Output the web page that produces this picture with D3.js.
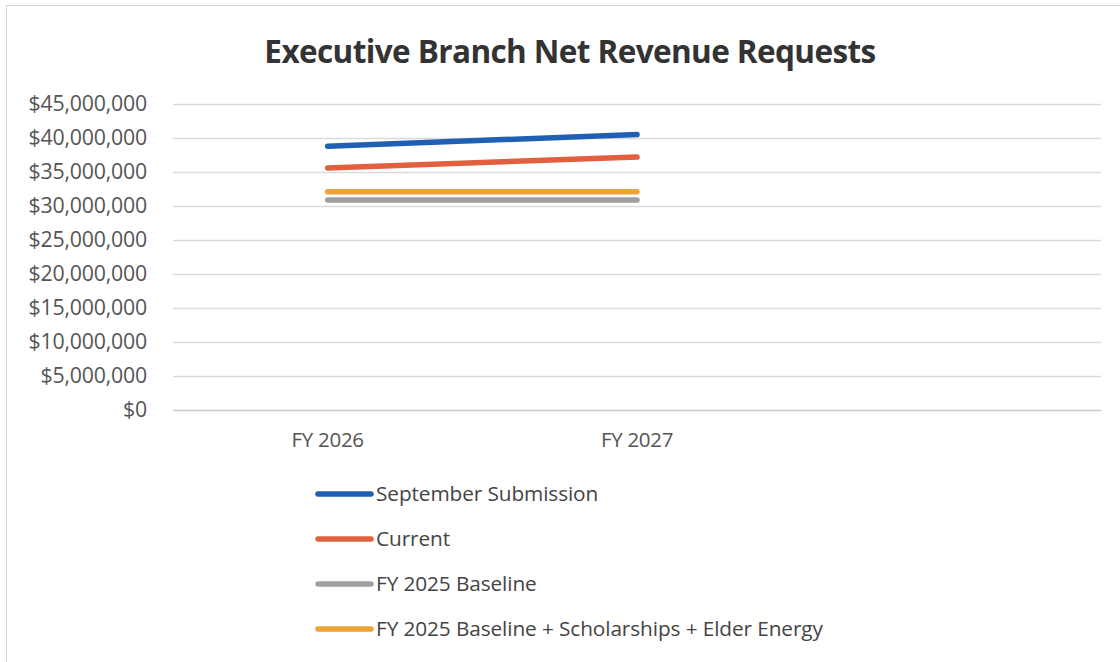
<!DOCTYPE html>
<html>
<head>
<meta charset="utf-8">
<script src="https://cdn.jsdelivr.net/npm/d3@7"></script>
<style>
  body { margin: 0; background: #fff; }
  svg { display: block; font-family: "Open Sans", Lato, sans-serif; }
</style>
</head>
<body>
<svg id="chart"></svg>
<script>
const categories = ["FY 2026", "FY 2027", ""];
const seriesNames = [
    "September Submission",
    "Current",
    "FY 2025 Baseline",
    "FY 2025 Baseline + Scholarships + Elder Energy"
];
const septemberSubmission = [38800000, 40500000];
const current = [35600000, 37200000];
const baseline = [30900000, 30900000];
const baselinePlus = [32100000, 32100000];
const yTicks = [0, 5e6, 10e6, 15e6, 20e6, 25e6, 30e6, 35e6, 40e6, 45e6];

const colors = ["#1f5fb4", "#e0603f", "#a0a0a0", "#efa236"];
const seriesValues = [septemberSubmission, current, baseline, baselinePlus];

const width = 1120, height = 662;
const margin = { left: 173, right: 19, top: 104, bottom: 252 };

const svg = d3.select("#chart")
    .attr("width", width)
    .attr("height", height);

// frame
svg.append("rect")
    .attr("x", 6.5).attr("y", 5.5)
    .attr("width", width - 4).attr("height", height - 3)
    .attr("fill", "#fff")
    .attr("stroke", "#d4d4d4");

svg.append("text")
    .attr("x", 570).attr("y", 63)
    .attr("text-anchor", "middle")
    .attr("font-size", 31.5)
    .attr("font-weight", "bold")
    .attr("letter-spacing", -0.6)
    .attr("fill", "#333")
    .text("Executive Branch Net Revenue Requests");

const x = d3.scaleBand()
    .domain(categories.map((c, i) => i))
    .range([margin.left, width - margin.right]);

const y = d3.scaleLinear()
    .domain([0, 45e6])
    .range([height - margin.bottom, margin.top]);

// gridlines
svg.append("g")
    .selectAll("line")
    .data(yTicks)
    .enter().append("line")
    .attr("x1", margin.left)
    .attr("x2", width - margin.right)
    .attr("y1", d => Math.round(y(d)) + 0.5)
    .attr("y2", d => Math.round(y(d)) + 0.5)
    .attr("stroke", d => d === 0 ? "#c8c8c8" : "#dadada")
    .attr("stroke-width", 1.3);

const fmt = d3.format("$,.0f");

svg.append("g")
    .selectAll("text")
    .data(yTicks)
    .enter().append("text")
    .attr("x", 147)
    .attr("y", d => y(d))
    .attr("dy", "0.35em")
    .attr("text-anchor", "end")
    .attr("font-size", 21.3)
    .attr("letter-spacing", -0.2)
    .attr("fill", "#555")
    .text(d => fmt(d));

svg.append("g")
    .selectAll("text")
    .data(categories)
    .enter().append("text")
    .attr("x", (d, i) => x(i) + x.bandwidth() / 2)
    .attr("y", 447)
    .attr("text-anchor", "middle")
    .attr("font-size", 20.5)
    .attr("letter-spacing", -0.3)
    .attr("fill", "#555")
    .text(d => d);

const line = d3.line()
    .x((d, i) => x(i) + x.bandwidth() / 2)
    .y(d => y(d));

svg.append("g")
    .selectAll("path")
    .data(seriesValues)
    .enter().append("path")
    .attr("d", d => line(d))
    .attr("fill", "none")
    .attr("stroke", (d, i) => colors[i])
    .attr("stroke-width", 5.5)
    .attr("stroke-linecap", "round");

// legend
const legend = svg.append("g")
    .selectAll("g")
    .data(seriesNames)
    .enter().append("g")
    .attr("transform", (d, i) => `translate(318, ${494 + i * 45})`);

legend.append("line")
    .attr("x1", 0).attr("x2", 53)
    .attr("stroke", (d, i) => colors[i])
    .attr("stroke-width", 5.5)
    .attr("stroke-linecap", "round");

legend.append("text")
    .attr("x", 58)
    .attr("dy", "0.35em")
    .attr("font-size", 20.8)
    .attr("letter-spacing", -0.1)
    .attr("fill", "#444")
    .text(d => d);
</script>
</body>
</html>
